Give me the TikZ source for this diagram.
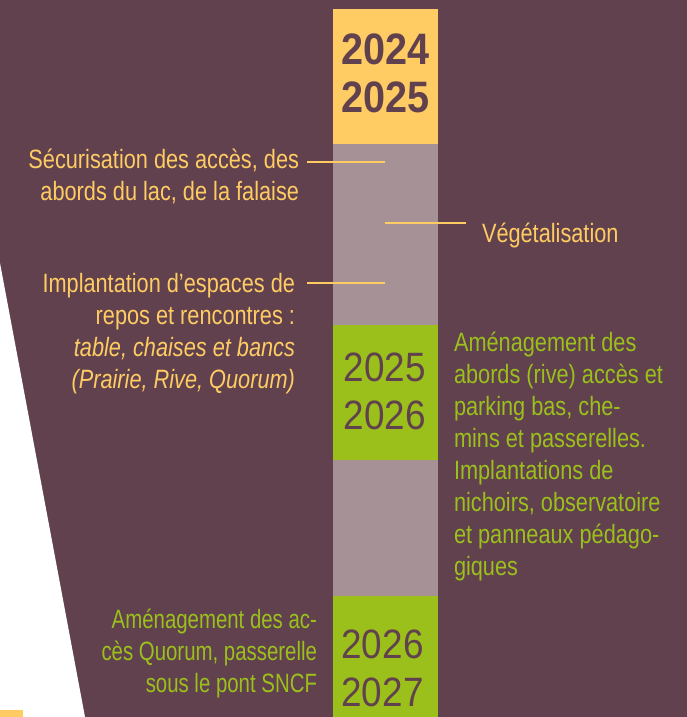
\documentclass[tikz,border=0pt]{standalone}
\usepackage{fontspec}
\setmainfont{Liberation Sans}
\newfontfamily\notefont{Liberation Sans}[FakeStretch=0.82]
\newfontfamily\narrowfont{Liberation Sans}[FakeStretch=0.77]
\newfontfamily\yearfont{Liberation Sans}[FakeStretch=0.9]
\usepackage{tikz}
\usetikzlibrary{positioning}

\definecolor{plum}{RGB}{96,65,77}
\definecolor{sun}{RGB}{255,204,100}
\definecolor{stone}{RGB}{165,145,150}
\definecolor{leaf}{RGB}{155,192,28}

\begin{document}
\begin{tikzpicture}[
    x=1pt, y=-1pt,
    node distance=0pt,
    every edge/.style={draw, line width=2pt},
    link/.style={draw=sun},
    phase/.style={rectangle, inner sep=0pt, outer sep=0pt, minimum width=105pt},
    year/.style={align=center, text=plum, inner sep=0pt, font=\yearfont\fontsize{41}{48}\selectfont},
    note/.style={inner sep=0pt, outer sep=0pt, font=\notefont\fontsize{26.5}{32}\selectfont}]

    \useasboundingbox (0,0) rectangle (687,717);
    \fill[plum] (0,0) rectangle (687,717);
    \fill[white] (0,263) -- (85,717) -- (0,717) -- cycle;
    \fill[sun] (0,710) rectangle (23,717);

    %%% Timeline bar
    \node [phase, fill=sun, minimum height=135pt, anchor=north west] (p1) at (333,9) {};
    \node [phase, fill=stone, minimum height=181pt, below=of p1] (p2) {};
    \node [phase, fill=leaf, minimum height=135pt, below=of p2] (p3) {};
    \node [phase, fill=stone, minimum height=136pt, below=of p3] (p4) {};
    \node [phase, fill=leaf, minimum height=121pt, below=of p4] (p5) {};

    \node [year, font=\yearfont\bfseries\fontsize{44}{48}\selectfont] (y1) at (385.5,73) {2024\\2025};
    \node [year] (y2) at (385,391.5) {2025\\2026};
    \node [year] (y3) at (382.5,668.5) {2026\\2027};

    %%% Actions (anchored on the baseline of their last line)
    \node [note, text=sun, align=right, anchor=base east, outer xsep=8pt] (secu) at (307,200) {Sécurisation des accès, des\\abords du lac, de la falaise};
    \node [note, text=sun, align=right, anchor=base east, outer xsep=12pt] (repos) at (307,388) {Implantation d’espaces de\\repos et rencontres :\\\textit{table, chaises et bancs}\\\textit{(Prairie, Rive, Quorum)}};
    \node [note, text=sun, anchor=base west, outer xsep=16pt] (veg) at (466,242) {Végétalisation};
    \node [note, text=leaf, align=left, anchor=base west] (rive) at (454,575) {Aménagement des\\abords (rive) accès et\\parking bas, che-\\mins et passerelles.\\Implantations de\\nichoirs, observatoire\\et panneaux pédago-\\giques};
    \node [note, text=leaf, align=right, anchor=base east, font=\narrowfont\fontsize{26.5}{32}\selectfont] (quorum) at (317,692) {Aménagement des ac-\\cès Quorum, passerelle\\sous le pont SNCF};

    \coordinate (secuend) at (385,162);
    \coordinate (reposend) at (385,283);
    \coordinate (vegstart) at (385,223);

    %%% Links to the bar
    \path (secu.east |- secuend) edge [link] (secuend);
    \path (repos.east |- reposend) edge [link] (reposend);
    \path (vegstart) edge [link] (veg.west |- vegstart);

\end{tikzpicture}
\end{document}
